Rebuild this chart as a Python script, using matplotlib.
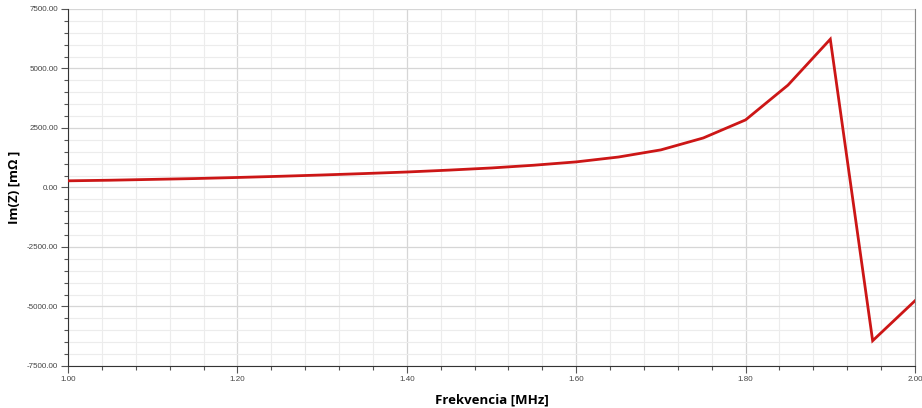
import numpy as np
import matplotlib; matplotlib.use("Agg")
import matplotlib.pyplot as plt
from matplotlib.ticker import MultipleLocator, FormatStrFormatter

# frekvencia [MHz] a imaginarna cast impedancie [mOhm]
freq_mhz = [1.00, 1.05, 1.10, 1.15, 1.20, 1.25, 1.30, 1.35, 1.40, 1.45, 1.50,
            1.55, 1.60, 1.65, 1.70, 1.75, 1.80, 1.85, 1.90, 1.95, 2.00]
im_z = [280, 305, 340, 375, 420, 470, 525, 585, 650, 730, 820,
        935, 1075, 1280, 1580, 2080, 2840, 4300, 6230, -6440, -4760]

fig = plt.figure(figsize=(9.22, 4.08), dpi=100)
ax = fig.add_axes([0.0738, 0.103, 0.9186, 0.875])

ax.plot(freq_mhz, im_z, color="#cc1616", lw=2.0, solid_joinstyle="miter", zorder=3)

ax.set_xlim(1.0, 2.0)
ax.set_ylim(-7500, 7500)
ax.xaxis.set_major_locator(MultipleLocator(0.2))
ax.xaxis.set_minor_locator(MultipleLocator(0.04))
ax.yaxis.set_major_locator(MultipleLocator(2500))
ax.yaxis.set_minor_locator(MultipleLocator(500))
ax.xaxis.set_major_formatter(FormatStrFormatter("%.2f"))
ax.yaxis.set_major_formatter(FormatStrFormatter("%.2f"))

ax.grid(which="major", color="#d6d6d6", lw=0.9)
ax.grid(which="minor", color="#ececec", lw=0.8)
ax.set_axisbelow(True)

for lab in ax.get_xticklabels() + ax.get_yticklabels():
    lab.set_family("Liberation Sans")
    lab.set_fontsize(5.8)
    lab.set_color("#444444")
ax.tick_params(which="major", direction="out", length=5, width=0.8, color="#555555", pad=2)
ax.tick_params(which="minor", direction="out", length=3, width=0.8, color="#555555")

ax.spines["top"].set_visible(False)
ax.spines["right"].set_color("#8a8a8a")
ax.spines["left"].set_color("#333333")
ax.spines["bottom"].set_color("#333333")

ax.set_xlabel("Frekvencia [MHz]", family="Open Sans", fontweight="bold", fontsize=9.5, labelpad=8)
ax.set_ylabel("Im(Z) [mΩ ]", family="Open Sans", fontweight="bold", fontsize=9.5, labelpad=5)

fig.savefig("out.png", dpi=100)
